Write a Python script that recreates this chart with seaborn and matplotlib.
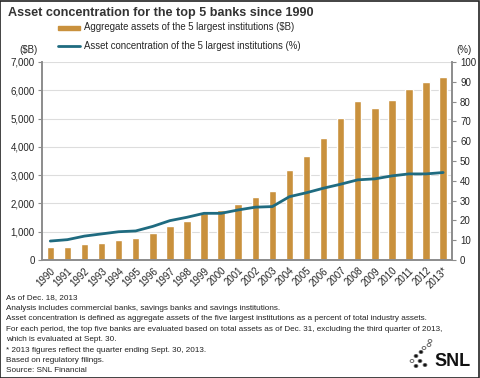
import numpy as np
import pandas as pd
import matplotlib
matplotlib.use("Agg")
import matplotlib.pyplot as plt
import seaborn as sns
from matplotlib.patches import Rectangle, Circle
from matplotlib.lines import Line2D

# ----------------------
# 数据
# ----------------------
years = ["1990", "1991", "1992", "1993", "1994", "1995", "1996", "1997", "1998", "1999",
         "2000", "2001", "2002", "2003", "2004", "2005", "2006", "2007", "2008", "2009",
         "2010", "2011", "2012", "2013*"]
assets_bn = [450, 470, 566, 613, 708, 767, 967, 1204, 1392, 1653,
             1760, 1983, 2242, 2443, 3187, 3683, 4309, 5004, 5606, 5372,
             5666, 6044, 6292, 6455]
concentration_pct = [9.6, 10.3, 12.1, 13.2, 14.3, 14.7, 17.0, 19.9, 21.6, 23.6,
                     23.6, 25.3, 26.7, 27.0, 32.0, 34.0, 36.3, 38.3, 40.5, 41.0,
                     42.5, 43.5, 43.5, 44.2]
left_ticks = [0, 1000, 2000, 3000, 4000, 5000, 6000, 7000]
right_ticks = [0, 10, 20, 30, 40, 50, 60, 70, 80, 90, 100]

footnotes = [
    "As of Dec. 18, 2013",
    "Analysis includes commercial banks, savings banks and savings institutions.",
    "Asset concentration is defined as aggregate assets of the five largest institutions as a percent of total industry assets.",
    "For each period, the top five banks are evaluated based on total assets as of Dec. 31, excluding the third quarter of 2013,",
    "which is evaluated at Sept. 30.",
    "* 2013 figures reflect the quarter ending Sept. 30, 2013.",
    "Based on regulatory filings.",
    "Source: SNL Financial",
]

df = pd.DataFrame({"year": years, "assets": assets_bn, "pct": concentration_pct})

bar_color = "#C9913D"
line_color = "#1F6B80"
spine_color = "#8C8C8C"

sns.set_style("white")
plt.rcParams['font.family'] = ['Liberation Sans', 'DejaVu Sans']

fig = plt.figure(figsize=(4.8, 3.78), dpi=100)
ax = fig.add_axes([0.087, 0.312, 0.854, 0.524])

sns.barplot(data=df, x="year", y="assets", color=bar_color, width=0.44,
            saturation=1, ax=ax, zorder=2)
ax.set_xlim(-0.5, len(years) - 0.5)
ax.set_ylim(0, 7000)
ax.set_yticks(left_ticks)
ax.set_yticklabels([f"{v:,}" for v in left_ticks], fontsize=7)
ax.yaxis.grid(True, color="#DDDDDD", linewidth=0.8, zorder=0)
ax.set_axisbelow(True)
ax.set_xlabel("")
ax.set_ylabel("")

ax.set_xticks(range(len(years)))
ax.set_xticklabels(years, rotation=45, ha="right", rotation_mode="anchor", fontsize=7)
ax.tick_params(axis="x", length=0, pad=4)
ax.set_xticks(np.arange(-0.5, len(years), 1.0), minor=True)
ax.tick_params(axis="x", which="minor", length=3, color=spine_color, direction="out")
ax.tick_params(axis="y", length=3, color=spine_color, direction="out", pad=2, left=True)

ax.spines["top"].set_visible(False)
for s in ["left", "right", "bottom"]:
    ax.spines[s].set_color(spine_color)
    ax.spines[s].set_linewidth(1.2)

ax2 = ax.twinx()
sns.lineplot(x=np.arange(len(years)), y=concentration_pct, color=line_color,
             linewidth=2, ax=ax2)
ax2.set_ylim(0, 100)
ax2.set_yticks(right_ticks)
ax2.set_yticklabels([str(v) for v in right_ticks], fontsize=7)
ax2.tick_params(axis="y", length=3, color=spine_color, direction="out", pad=3, right=True)
ax2.spines["top"].set_visible(False)
for s in ["left", "right", "bottom"]:
    ax2.spines[s].set_color(spine_color)
    ax2.spines[s].set_linewidth(1.2)
ax2.set_xlim(-0.5, len(years) - 0.5)

# 标题和图例
fig.text(8 / 480, 1 - 13 / 378, "Asset concentration for the top 5 banks since 1990",
         fontsize=9.1, fontweight="bold", color="#333333", va="center", ha="left")
fig.add_artist(Rectangle((58 / 480, 1 - 29.5 / 378), 22 / 480, 4 / 378,
                         transform=fig.transFigure, color=bar_color))
fig.text(84 / 480, 1 - 27 / 378, "Aggregate assets of the 5 largest institutions ($B)",
         fontsize=6.9, va="center", ha="left")
fig.add_artist(Line2D([58 / 480, 80 / 480], [1 - 46 / 378, 1 - 46 / 378],
                      transform=fig.transFigure, color=line_color, linewidth=2))
fig.text(84 / 480, 1 - 46 / 378, "Asset concentration of the 5 largest institutions (%)",
         fontsize=6.9, va="center", ha="left")
fig.text(28 / 480, 1 - 50 / 378, "($B)", fontsize=7, ha="center", va="center")
fig.text(464 / 480, 1 - 50 / 378, "(%)", fontsize=7, ha="center", va="center")

# 脚注
for i, line in enumerate(footnotes):
    fig.text(6 / 480, 1 - (298 + i * 10.4) / 378, line, fontsize=5.9,
             ha="left", va="center", color="#222222")

# SNL 标志
fig.text(471 / 480, 1 - 362 / 378, "SNL", fontsize=13, fontweight="bold",
         ha="right", va="center", color="#111111")
for (x, y, filled) in [(416, 356, True), (421, 352, True), (420, 361, True),
                       (416, 366, True), (425, 365, True), (424, 348, False),
                       (429, 345, False), (430, 341, False), (412, 361, False)]:
    fig.add_artist(Circle((x / 480, 1 - y / 378), 1.9 / 480, transform=fig.transFigure,
                          facecolor="#111111" if filled else "white",
                          edgecolor="#555555", linewidth=0.6))

# 边框
fig.add_artist(Rectangle((0.001, 0.001), 0.997, 0.997, transform=fig.transFigure,
                         fill=False, edgecolor="#222222", linewidth=1.2))

fig.savefig("out.png", dpi=100)
